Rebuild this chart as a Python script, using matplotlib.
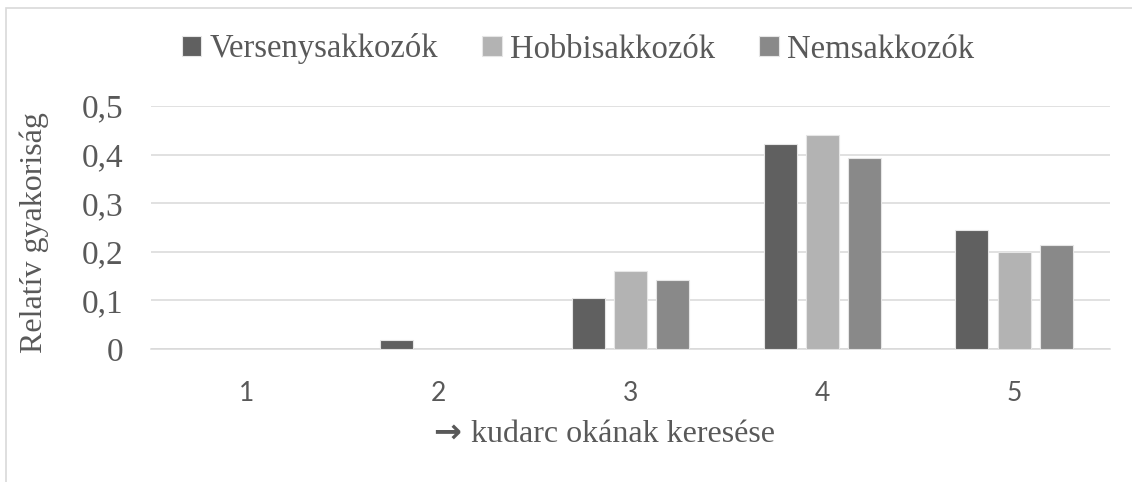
import numpy as np
import matplotlib
matplotlib.use('Agg')
import matplotlib.pyplot as plt
from matplotlib.patches import Rectangle

### data
categories = ['1', '2', '3', '4', '5']
series_names = ['Versenysakkozók', 'Hobbisakkozók', 'Nemsakkozók']
verseny = [0.0, 0.018, 0.105, 0.421, 0.245]
hobbi = [0.0, 0.0, 0.160, 0.440, 0.199]
nem = [0.0, 0.0, 0.142, 0.392, 0.213]
yticks = [0, 0.1, 0.2, 0.3, 0.4, 0.5]
ytick_labels = ['0', '0,1', '0,2', '0,3', '0,4', '0,5']

colors = ['#606060', '#b3b3b3', '#898989']
txt = '#595959'
grid = '#d9d9d9'
serif = 'Liberation Serif'

fig = plt.figure(figsize=(11.32, 4.82), dpi=100)
ax = fig.add_axes([151/1132, 1 - 349/482, (1110 - 151)/1132, (349 - 106)/482])

# chart frame (light grey border, top and left visible)
fig.add_artist(Rectangle((6/1132, -0.1), 1.2, 1 - 8/482 + 0.1, transform=fig.transFigure,
                         fill=False, edgecolor=grid, linewidth=1.2))

x = np.arange(len(categories))
width = 0.173
step = 0.22
for i, (vals, c) in enumerate(zip([verseny, hobbi, nem], colors)):
    ax.bar(x + (i - 1) * step, vals, width, color=c, edgecolor='#e6e6e6',
           linewidth=0.8, zorder=3, label=series_names[i])

ax.set_xlim(-0.5, len(categories) - 0.5)
ax.set_ylim(0, 0.5)
ax.set_yticks(yticks)
ax.set_yticklabels(ytick_labels)
ax.set_xticks(x)
ax.set_xticklabels(categories)

ax.yaxis.grid(True, color=grid, linewidth=1.1, zorder=0)
for s in ['top', 'right', 'left']:
    ax.spines[s].set_visible(False)
ax.spines['bottom'].set_color(grid)
ax.spines['bottom'].set_linewidth(1.1)
ax.spines['bottom'].set_zorder(1)

ax.tick_params(axis='both', length=0)
ax.tick_params(axis='y', pad=20, labelsize=24, labelcolor=txt)
ax.tick_params(axis='x', pad=23, labelsize=19, labelcolor=txt)
for t in ax.get_yticklabels():
    t.set_fontfamily(serif)
for t in ax.get_xticklabels():
    t.set_fontfamily('Lato')

## axis titles
fig.text(34/1132, 1 - 233/482, 'Relatív gyakoriság', rotation=90, ha='center', va='center',
         fontsize=23, color=txt, family=serif)
fig.text(447/1132, 1 - 432/482, '\u2192', ha='center', va='center',
         fontsize=24, fontweight='bold', color=txt, family='DejaVu Sans')
fig.text(471/1132, 1 - 434/482, 'kudarc okának keresése', ha='left', va='center',
         fontsize=23, color=txt, family=serif)

leg = fig.legend(loc='center', bbox_to_anchor=(578/1132, 1 - 49/482), ncol=3, frameon=False,
                 prop={'family': serif, 'size': 23.5}, handlelength=0.6, handleheight=0.6,
                 handletextpad=0.25, columnspacing=1.35, borderaxespad=0)
for t in leg.get_texts():
    t.set_color(txt)

fig.savefig('out.png', dpi=100)
